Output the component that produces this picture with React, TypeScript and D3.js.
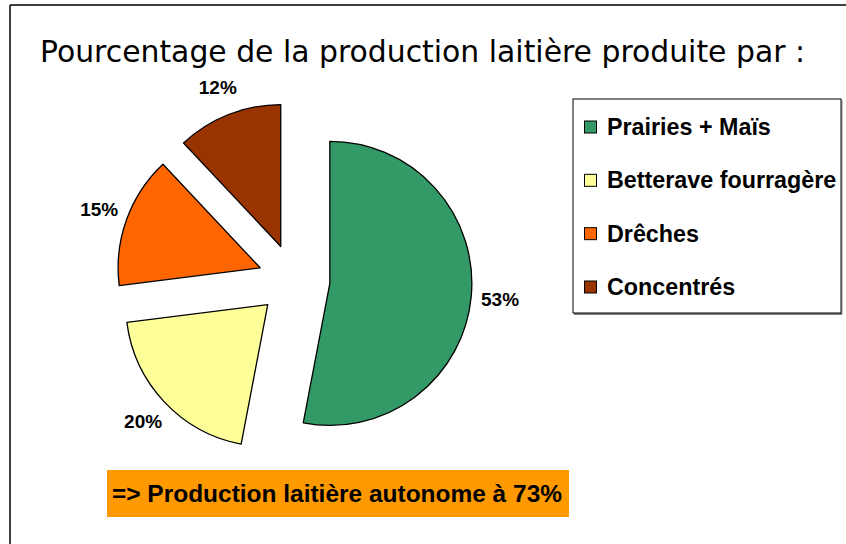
import React from "react";
import * as d3 from "d3";

const categories = ["Prairies + Maïs", "Betterave fourragère", "Drêches", "Concentrés"];
const values = [53, 20, 15, 12];
const colors = ["#339966", "#FFFF99", "#FF6600", "#993300"];
const title = "Pourcentage de la production laitière produite par :";
const note = "=> Production laitière autonome à 73%";

const W = 846;
const H = 544;
const cx = 294;
const cy = 280;
const R = 142;
const explode = 36;
const labelR = 207;

export default function App() {
  const pie = d3.pie<number>().sort(null).startAngle(0).endAngle(2 * Math.PI);
  const arcs = pie(values);
  const arc = d3.arc<d3.PieArcDatum<number>>().innerRadius(0).outerRadius(R);
  const legendY = d3.scalePoint<string>().domain(categories).range([127, 287]);

  return (
    <svg width={W} height={H} style={{ position: "absolute", left: 0, top: 0, background: "#fff" }}>
      <rect x={0} y={0} width={W} height={H} fill="#fff" />
      <line x1={10} y1={5} x2={W} y2={5} stroke="#000" strokeWidth={1.5} />
      <line x1={10} y1={5} x2={10} y2={H} stroke="#000" strokeWidth={1.5} />
      <text
        x={40}
        y={62}
        fontFamily="'Comic Sans MS', 'DejaVu Sans', sans-serif"
        fontSize={30}
        textLength={765}
        lengthAdjust="spacingAndGlyphs"
        fill="#000"
      >
        {title}
      </text>
      <g transform={`translate(${cx},${cy})`}>
        {arcs.map((a, i) => {
          const mid = (a.startAngle + a.endAngle) / 2;
          const dx = Math.sin(mid) * explode;
          const dy = -Math.cos(mid) * explode;
          return (
            <path
              key={i}
              d={arc(a) || ""}
              transform={`translate(${dx},${dy})`}
              fill={colors[i]}
              stroke="#000"
              strokeWidth={1.3}
              strokeLinejoin="round"
            />
          );
        })}
        {arcs.map((a, i) => {
          const mid = (a.startAngle + a.endAngle) / 2;
          return (
            <text
              key={"l" + i}
              x={Math.sin(mid) * labelR}
              y={-Math.cos(mid) * labelR}
              textAnchor="middle"
              dominantBaseline="central"
              fontFamily="'Liberation Sans', Arial, sans-serif"
              fontWeight="bold"
              fontSize={19}
              fill="#000"
            >
              {values[i]}%
            </text>
          );
        })}
      </g>
      <line x1={574} y1={314} x2={842} y2={314} stroke="#808080" strokeWidth={2} />
      <line x1={842} y1={100} x2={842} y2={314} stroke="#808080" strokeWidth={1} />
      <rect x={573} y={99} width={268} height={214} fill="#fff" stroke="#000" strokeWidth={1} />
      {categories.map((c, i) => {
        const y = legendY(c) as number;
        return (
          <g key={c}>
            <rect x={584.5} y={y - 6} width={12} height={12} fill={colors[i]} stroke="#000" strokeWidth={1} />
            <text
              x={607}
              y={y}
              dominantBaseline="central"
              fontFamily="'Liberation Sans', Arial, sans-serif"
              fontWeight="bold"
              fontSize={23.3}
              fill="#000"
            >
              {c}
            </text>
          </g>
        );
      })}
      <rect x={107} y={470} width={462} height={47} fill="#FF9900" />
      <text
        x={112}
        y={494}
        dominantBaseline="central"
        fontFamily="'Liberation Sans Narrow', 'Arial Narrow', 'Liberation Sans', Arial, sans-serif"
        fontWeight="bold"
        fontSize={23}
        textLength={450}
        lengthAdjust="spacingAndGlyphs"
        fill="#000"
      >
        {note}
      </text>
    </svg>
  );
}
